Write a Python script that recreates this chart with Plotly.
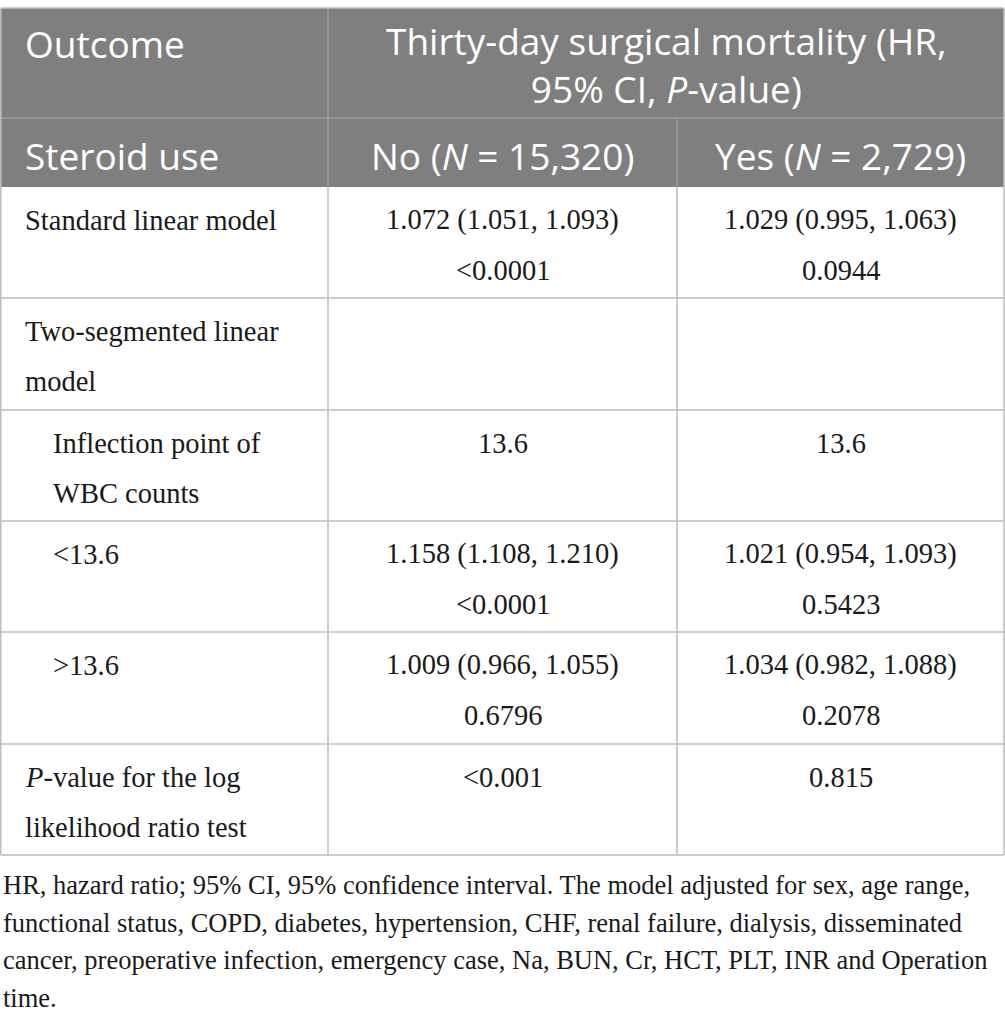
import re
import plotly.graph_objects as go

# ---------------- data ----------------
outcome_label = "Outcome"
outcome_title = ["Thirty-day surgical mortality (HR,", "95% CI, <i>P</i>-value)"]
group_label = "Steroid use"
group_names = ["No (<i>N</i> = 15,320)", "Yes (<i>N</i> = 2,729)"]

row_labels = [
    ["Standard linear model"],
    ["Two-segmented linear", "model"],
    ["Inflection point of", "WBC counts"],
    ["<13.6"],
    [">13.6"],
    ["<i>P</i>-value for the log", "likelihood ratio test"],
]
row_indent = [0, 0, 1, 1, 1, 0]

no_hr = ["1.072 (1.051, 1.093)", "", "13.6", "1.158 (1.108, 1.210)", "1.009 (0.966, 1.055)", "<0.001"]
no_p = ["<0.0001", "", "", "<0.0001", "0.6796", ""]
yes_hr = ["1.029 (0.995, 1.063)", "", "13.6", "1.021 (0.954, 1.093)", "1.034 (0.982, 1.088)", "0.815"]
yes_p = ["0.0944", "", "", "0.5423", "0.2078", ""]

footnote_lines = [
    "HR, hazard ratio; 95% CI, 95% confidence interval. The model adjusted for sex, age range,",
    "functional status, COPD, diabetes, hypertension, CHF, renal failure, dialysis, disseminated",
    "cancer, preoperative infection, emergency case, Na, BUN, Cr, HCT, PLT, INR and Operation",
    "time.",
]

# ---------------- layout / style ----------------
W, H = 1005, 1024
col_edges = [0.8, 328, 677, 1004]
header_top = 8
header_rows = [header_top, 118, 187]
body_row_h = [111, 112, 111, 111, 112, 111]
first_line_off = 33
line_gap = 50
pad_left = 22
indent_w = 28
foot_y0 = 885
foot_gap = 37.7

HEAD_BG = "#7f7f7f"
HEAD_LINE = "#9c9c9c"
BODY_LINE = "#bcbcbc"
SANS = "Open Sans"
SERIF = "Liberation Serif"
HEAD_SIZE = 37
BODY_SIZE = 28.5
FOOT_SIZE = 26.5


def esc(s):
    s = re.sub(r"<(?=[\d.])", "&lt;", s)
    s = re.sub(r">(?=[\d.])", "&gt;", s)
    return s


body_edges = [header_rows[-1]]
for h in body_row_h:
    body_edges.append(body_edges[-1] + h)

fig = go.Figure()
fig.add_trace(go.Scatter(x=[0, W], y=[0, H], mode="markers",
                         marker=dict(opacity=0), hoverinfo="skip", showlegend=False))

shapes = []
shapes.append(dict(type="rect", x0=col_edges[0], x1=col_edges[-1], y0=header_rows[0], y1=header_rows[-1],
                   fillcolor=HEAD_BG, line=dict(width=0), layer="below"))
shapes.append(dict(type="line", x0=col_edges[0], x1=col_edges[-1], y0=header_rows[1], y1=header_rows[1],
                   line=dict(color=HEAD_LINE, width=1.5)))
shapes.append(dict(type="line", x0=col_edges[1], x1=col_edges[1], y0=header_rows[0], y1=header_rows[2],
                   line=dict(color=HEAD_LINE, width=1.5)))
shapes.append(dict(type="line", x0=col_edges[2], x1=col_edges[2], y0=header_rows[1], y1=header_rows[2],
                   line=dict(color=HEAD_LINE, width=1.5)))
shapes.append(dict(type="line", x0=col_edges[0], x1=col_edges[-1], y0=header_rows[0], y1=header_rows[0],
                   line=dict(color=BODY_LINE, width=1.5)))
for yv in body_edges[1:]:
    shapes.append(dict(type="line", x0=col_edges[0], x1=col_edges[-1], y0=yv, y1=yv,
                       line=dict(color=BODY_LINE, width=1.5)))
for xv in col_edges:
    shapes.append(dict(type="line", x0=xv, x1=xv, y0=body_edges[0], y1=body_edges[-1],
                       line=dict(color=BODY_LINE, width=1.5)))
for xv in (col_edges[0], col_edges[-1]):
    shapes.append(dict(type="line", x0=xv, x1=xv, y0=header_rows[0], y1=header_rows[-1],
                       line=dict(color=BODY_LINE, width=1.5)))

ann = []


def add_text(x, y, text, size, family, color, xanchor):
    ann.append(dict(x=x, y=y, xref="x", yref="y", text=text, showarrow=False,
                    xanchor=xanchor, yanchor="middle", align="center" if xanchor == "center" else xanchor,
                    font=dict(size=size, family=family, color=color)))


add_text(col_edges[0] + pad_left, 43, outcome_label, HEAD_SIZE, SANS, "white", "left")
mid_23 = (col_edges[1] + col_edges[3]) / 2
add_text(mid_23, 64, "<br>".join(outcome_title), HEAD_SIZE, SANS, "white", "center")
add_text(col_edges[0] + pad_left, 155, group_label, HEAD_SIZE, SANS, "white", "left")
for j, g in enumerate(group_names):
    add_text((col_edges[j + 1] + col_edges[j + 2]) / 2, 155, g, HEAD_SIZE, SANS, "white", "center")

for r in range(len(row_labels)):
    top = body_edges[r]
    for k, line in enumerate(row_labels[r]):
        add_text(col_edges[0] + pad_left + row_indent[r] * indent_w, top + first_line_off + k * line_gap,
                 esc(line), BODY_SIZE, SERIF, "#1a1a1a", "left")
    for c, (hr, p) in enumerate([(no_hr[r], no_p[r]), (yes_hr[r], yes_p[r])]):
        cx = (col_edges[c + 1] + col_edges[c + 2]) / 2
        if hr:
            add_text(cx, top + first_line_off, esc(hr), BODY_SIZE, SERIF, "#1a1a1a", "center")
        if p:
            add_text(cx, top + first_line_off + line_gap, esc(p), BODY_SIZE, SERIF, "#1a1a1a", "center")

for i, line in enumerate(footnote_lines):
    add_text(0.5, foot_y0 + i * foot_gap, line, FOOT_SIZE, SERIF, "#1a1a1a", "left")

fig.update_layout(
    width=W, height=H, margin=dict(l=0, r=0, t=0, b=0),
    paper_bgcolor="white", plot_bgcolor="white",
    xaxis=dict(range=[0, W], visible=False, fixedrange=True),
    yaxis=dict(range=[H, 0], visible=False, fixedrange=True),
    shapes=shapes, annotations=ann, showlegend=False,
)
fig.write_html("out.html", config={"displayModeBar": False},
               post_script="document.body.style.margin='0px';")
